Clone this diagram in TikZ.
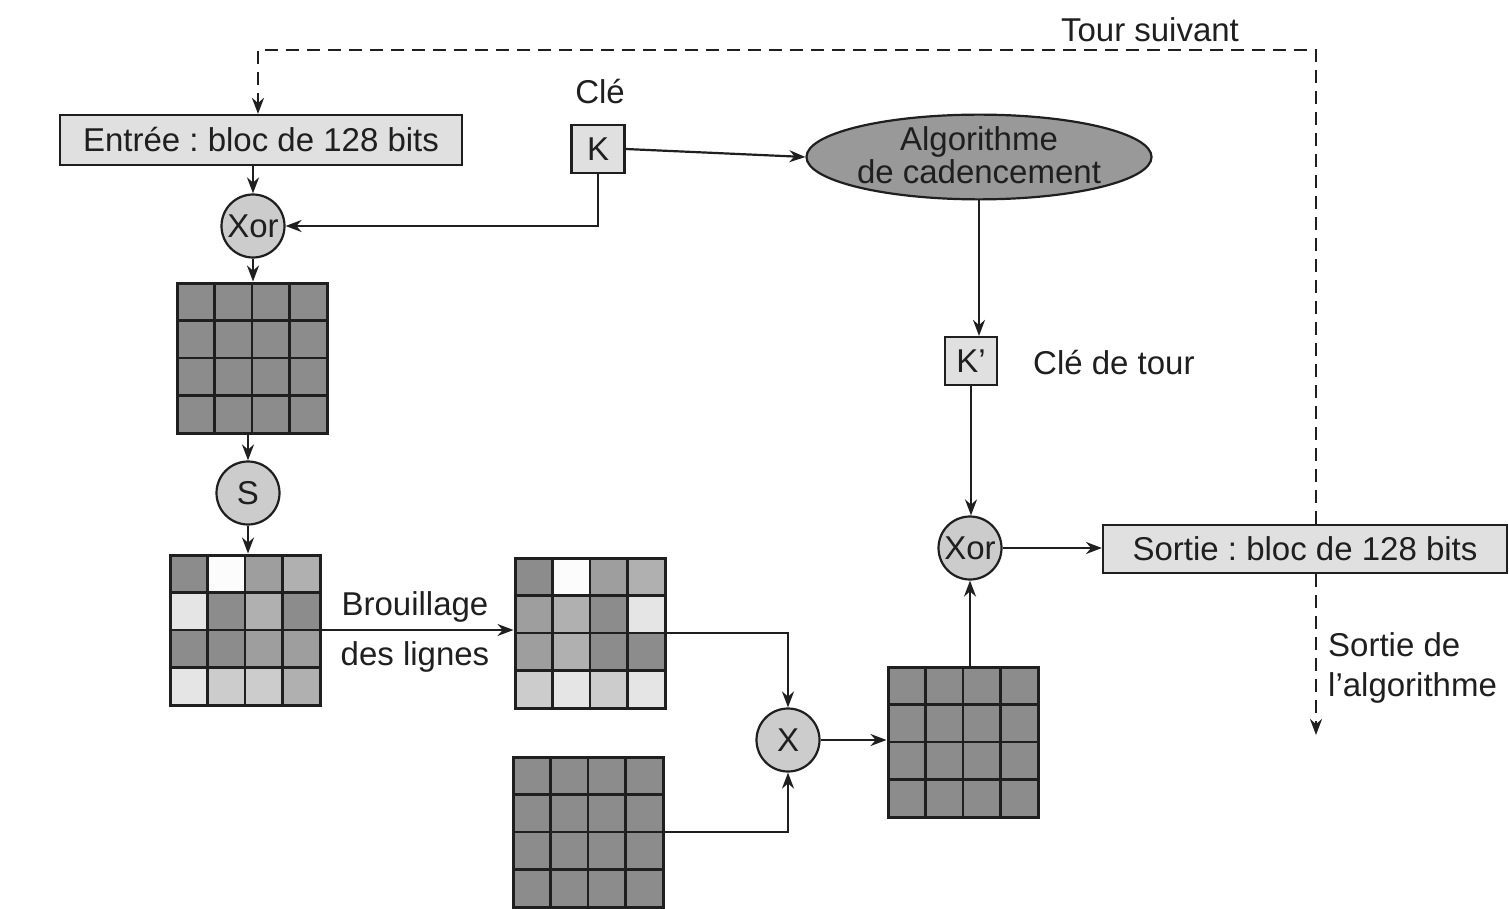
\documentclass[tikz,border=0pt]{standalone}
\usepackage{fontspec}
\setmainfont{Liberation Sans}
\usetikzlibrary{arrows.meta,shapes.geometric}
\definecolor{cA}{gray}{0.55}
\definecolor{cB}{gray}{0.62}
\definecolor{cC}{gray}{0.69}
\definecolor{cD}{gray}{0.80}
\definecolor{cE}{gray}{0.90}
\definecolor{cW}{gray}{0.99}
\definecolor{boxfill}{gray}{0.88}
\definecolor{circfill}{gray}{0.80}
\definecolor{ellfill}{gray}{0.60}
\definecolor{inkline}{gray}{0.12}
\tikzset{
  gridbox/.style={draw=inkline, line width=3pt, rectangle, minimum size=150pt, inner sep=0pt},
  gridline/.style={draw=inkline, line width=2.8pt},
  txtbox/.style={draw=inkline, line width=2.2pt, fill=boxfill, rectangle, inner sep=0pt},
  opcirc/.style={draw=inkline, line width=2.2pt, fill=circfill, circle, minimum size=63pt, inner sep=0pt},
  conn/.style={draw=inkline, line width=2.2pt, -{Stealth[length=16pt,width=12pt]}},
  dashconn/.style={draw=inkline, line width=2.5pt, dash pattern=on 13pt off 8pt},
  plain/.style={inner sep=0pt}
}
\newcommand\aesgrid[4]{%
  \foreach \c [count=\i from 0] in {#4} {%
    \pgfmathtruncatemacro\aesrow{\i/4}%
    \pgfmathtruncatemacro\aescol{mod(\i,4)}%
    \fill[\c] ({#2+\aescol*37.5},{#3+\aesrow*37.5}) rectangle ++(37.5,37.5);
  }
  \foreach \k in {1,2,3} {
    \draw[gridline] ({#2+\k*37.5},#3) -- ++(0,150);
    \draw[gridline] (#2,{#3+\k*37.5}) -- ++(150,0);
  }
  \node[gridbox] (#1) at ({#2+75},{#3+75}) {};
}
\begin{document}
\frenchspacing
\begin{tikzpicture}[x=1pt,y=-1pt,
  every node/.style={font=\fontsize{33}{37}\selectfont, text=black!88}]
\useasboundingbox (0,0) rectangle (1509,909);

% grids
\aesgrid{g1}{177}{283}{cA,cA,cA,cA,cA,cA,cA,cA,cA,cA,cA,cA,cA,cA,cA,cA}
\aesgrid{g2}{170}{555}{cA,cW,cB,cC,cE,cA,cC,cA,cA,cA,cB,cB,cE,cD,cD,cC}
\aesgrid{g3}{515}{558}{cA,cW,cB,cC,cB,cC,cA,cE,cB,cC,cA,cA,cD,cE,cD,cE}
\aesgrid{g4}{513}{757}{cA,cA,cA,cA,cA,cA,cA,cA,cA,cA,cA,cA,cA,cA,cA,cA}
\aesgrid{g5}{888}{667}{cA,cA,cA,cA,cA,cA,cA,cA,cA,cA,cA,cA,cA,cA,cA,cA}

% boxes
\node[txtbox, minimum width=402pt, minimum height=50pt] (entree) at (261,140) {Entrée : bloc de 128 bits};
\node[txtbox, minimum width=53pt, minimum height=48pt] (K) at (598,149) {K};
\node[plain] (cle) at (600,92) {Clé};
\node[draw=inkline, line width=2.2pt, fill=ellfill, ellipse, minimum width=324pt, minimum height=84pt, inner sep=0pt, align=center] (alg) at (979,157) {\raisebox{3pt}{Algorithme}\\[-4pt]\raisebox{3pt}{de cadencement}};
\node[txtbox, minimum width=52pt, minimum height=48pt] (kp) at (971,361) {K’};
\node[plain, anchor=west] (cletour) at (1033,363) {Clé de tour};
\node[txtbox, minimum width=404pt, minimum height=48pt] (sortie) at (1305,549) {Sortie : bloc de 128 bits};

% operators
\node[opcirc] (xor1) at (253,226) {Xor};
\node[opcirc] (S) at (248,493) {S};
\node[opcirc] (X) at (788,740) {X};
\node[opcirc] (xor2) at (970,548) {Xor};

% labels
\node[plain] (tour) at (1150,30) {Tour suivant};
\node[plain] (brou) at (415,607) {Brouillage};
\node[plain] (lignes) at (415,657) {des lignes};
\node[plain, anchor=west, align=left] (sortalg) at (1328,668) {Sortie de\\[3pt]l’algorithme};

% dashed loop
\coordinate (tl) at (258,50);
\coordinate (tr) at (1316,50);
\coordinate (fin) at (1316,735);
\draw[dashconn, -{Stealth[length=16pt,width=12pt]}] (tr |- sortie.north) -- (tr) -- (tl) -- (tl |- entree.north);
\draw[dashconn, -{Stealth[length=16pt,width=12pt]}] (tr |- sortie.south) -- (fin);

% connectors
\draw[conn] (xor1 |- entree.south) -- (xor1.north);
\draw[conn] (K.south) |- (xor1.east);
\draw[conn] (K.east) -- (alg.west);
\draw[conn] (xor1.south) -- (xor1.south |- g1.north);
\draw[conn] (S.north |- g1.south) -- (S.north);
\draw[conn] (S.south) -- (S.south |- g2.north);
\draw[conn] (g2.east) -- (g2.east -| g3.west);
\draw[conn] (g3.east) -| (X.north);
\draw[conn] (g4.east) -| (X.south);
\draw[conn] (X.east) -- (X.east -| g5.west);
\draw[conn] (xor2.south |- g5.north) -- (xor2.south);
\draw[conn] (alg.south) -- (alg.south |- kp.north);
\draw[conn] (kp.south) -- (kp.south |- xor2.north);
\draw[conn] (xor2.east) -- (xor2.east -| sortie.west);
\end{tikzpicture}
\end{document}
